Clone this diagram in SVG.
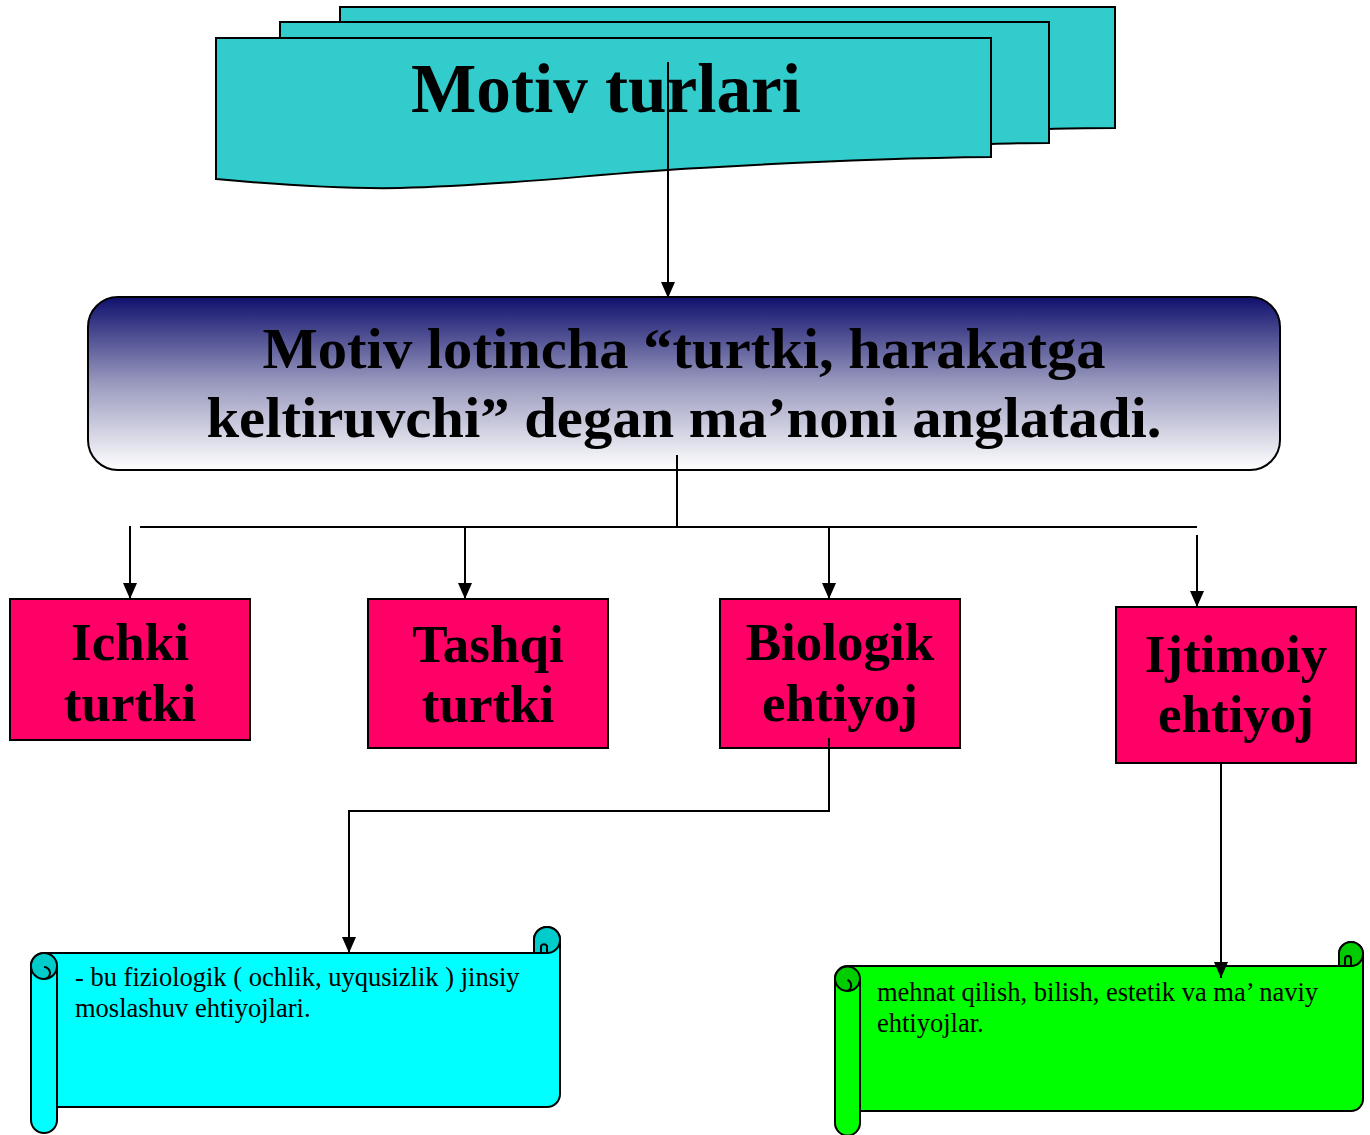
<svg xmlns="http://www.w3.org/2000/svg" width="1370" height="1135" viewBox="0 0 1370 1135">
<style>
.doc{fill:#33CCCC;stroke:#000;stroke-width:2}
.box{fill:#FF0066;stroke:#000;stroke-width:2}
.lbl{font-family:"Liberation Serif","Times New Roman",serif;font-weight:bold;font-size:53px;text-anchor:middle;fill:#000}
.big{font-family:"Liberation Serif","Times New Roman",serif;font-weight:bold;fill:#000}
.small{font-family:"Liberation Serif","Times New Roman",serif;font-size:26.5px;fill:#000}
.ln{fill:none;stroke:#000;stroke-width:2}
.scroll{stroke:#000;stroke-width:2;stroke-linejoin:round}
.sl{fill:none;stroke:#000;stroke-width:2}
</style>
<defs>
<linearGradient id="g" x1="0" y1="0" x2="0" y2="1">
<stop offset="0" stop-color="#10106e"/>
<stop offset="0.5" stop-color="#9a9abf"/>
<stop offset="1" stop-color="#ffffff"/>
</linearGradient>
<marker id="arr" markerWidth="16" markerHeight="14" refX="16" refY="7" orient="auto" markerUnits="userSpaceOnUse">
<path d="M0,0 L16,7 L0,14 Z" fill="#000"/>
</marker>
</defs>

<g id="title">
<path class="doc" d="M340,7 H1115 V128 C1090,128 1070,128 1049,129 L1049,60 L340,60 Z"/>
<path class="doc" d="M280,22 H1049 V143 C1030,143 1010,143 991,144 L991,80 L280,80 Z"/>
<path class="doc" d="M216,38 H991 V157 C900,158 800,162 700,168 C600,173 520,185 400,188 C340,189 280,185 216,179 Z"/>
<text class="big" x="606" y="112" font-size="70" text-anchor="middle" textLength="390" lengthAdjust="spacingAndGlyphs">Motiv turlari</text>
</g>

<g id="definition">
<rect x="88" y="297" width="1192" height="173" rx="30" ry="30" fill="url(#g)" stroke="#000" stroke-width="2"/>
<text class="big" x="684" y="368" font-size="58" text-anchor="middle" textLength="843" lengthAdjust="spacingAndGlyphs">Motiv lotincha “turtki, harakatga</text>
<text class="big" x="684" y="437" font-size="58" text-anchor="middle" textLength="955" lengthAdjust="spacingAndGlyphs">keltiruvchi” degan ma’noni anglatadi.</text>
</g>

<g id="ichki">
<rect class="box" x="10" y="599" width="240" height="141"/>
<text class="lbl" x="130" y="660">Ichki</text>
<text class="lbl" x="130" y="721">turtki</text>
</g>
<g id="tashqi">
<rect class="box" x="368" y="599" width="240" height="149"/>
<text class="lbl" x="488" y="662">Tashqi</text>
<text class="lbl" x="488" y="722">turtki</text>
</g>
<g id="biologik">
<rect class="box" x="720" y="599" width="240" height="149"/>
<text class="lbl" x="840" y="660">Biologik</text>
<text class="lbl" x="840" y="721">ehtiyoj</text>
</g>
<g id="ijtimoiy">
<rect class="box" x="1116" y="607" width="240" height="156"/>
<text class="lbl" x="1236" y="672">Ijtimoiy</text>
<text class="lbl" x="1236" y="732">ehtiyoj</text>
</g>

<g id="scroll-bio">
<path class="scroll" fill="#00FFFF" d="M44,953 L534,953 L534,940 A13,13 0 0 1 560,940 L560,1094 A13,13 0 0 1 547,1107 L57,1107 L57,1120 A13,13 0 0 1 31,1120 L31,966 A13,13 0 0 1 44,953 Z"/>
<path class="scroll" fill="#00CCCC" d="M547,953 A13,13 0 0 0 547,927 A13,13 0 0 0 534,940 L534,953 Z"/>
<path class="sl" d="M547,953 L541,953 L541,946 A3.5,3.5 0 0 1 547,946 L547,953 M534,953 L547,953"/>
<path class="scroll" fill="#00CCCC" d="M44,979 A13,13 0 0 0 57,966 A13,13 0 0 0 31,966 A13,13 0 0 0 44,979 A6,6 0 0 0 44,967"/>
<line class="sl" x1="57" y1="966" x2="57" y2="1107"/>
<text class="small" x="75" y="986">- bu fiziologik ( ochlik, uyqusizlik ) jinsiy</text>
<text class="small" x="75" y="1017">moslashuv ehtiyojlari.</text>
</g>

<g id="scroll-ijt">
<path class="scroll" fill="#00FF00" d="M847.5,966 L1339,966 L1339,954 A12,12 0 0 1 1363,954 L1363,1099 A12,12 0 0 1 1351,1111 L860,1111 L860,1123 A12.5,12.5 0 0 1 835,1123 L835,979 A12.5,12.5 0 0 1 847.5,966 Z"/>
<path class="scroll" fill="#00CC00" d="M1351,966 A12,12 0 0 0 1351,942 A12,12 0 0 0 1339,954 L1339,966 Z"/>
<path class="sl" d="M1351,966 L1345,966 L1345,959 A3,3 0 0 1 1351,959 L1351,966 M1339,966 L1351,966"/>
<path class="scroll" fill="#00CC00" d="M847.5,991 A12.5,12.5 0 0 0 860,979 A12.5,12.5 0 0 0 835,979 A12.5,12.5 0 0 0 847.5,991 A6,6 0 0 0 847.5,980"/>
<line class="sl" x1="860" y1="979" x2="860" y2="1111"/>
<text class="small" x="877" y="1001">mehnat qilish, bilish, estetik va ma’ naviy</text>
<text class="small" x="877" y="1032">ehtiyojlar.</text>
</g>

<g id="connectors">
<line class="ln" x1="668" y1="62" x2="668" y2="298" marker-end="url(#arr)"/>
<line class="ln" x1="677" y1="455" x2="677" y2="527"/>
<line class="ln" x1="140" y1="527" x2="1197" y2="527"/>
<line class="ln" x1="130" y1="526" x2="130" y2="599" marker-end="url(#arr)"/>
<line class="ln" x1="465" y1="527" x2="465" y2="599" marker-end="url(#arr)"/>
<line class="ln" x1="829" y1="527" x2="829" y2="599" marker-end="url(#arr)"/>
<line class="ln" x1="1197" y1="535" x2="1197" y2="607" marker-end="url(#arr)"/>
<polyline class="ln" points="829,738 829,811 349,811 349,953" marker-end="url(#arr)"/>
<line class="ln" x1="1221" y1="763" x2="1221" y2="978" marker-end="url(#arr)"/>
</g>
</svg>
